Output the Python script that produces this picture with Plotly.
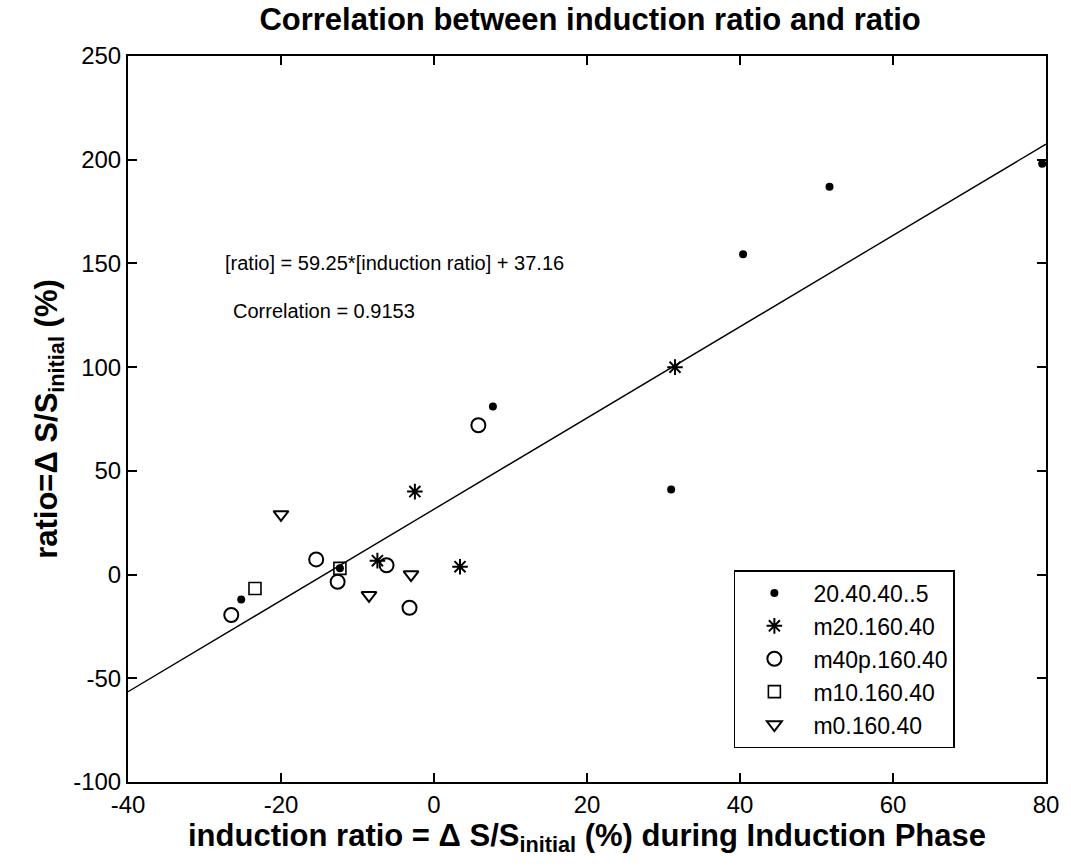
import plotly.graph_objects as go

# ---- data ----
s1_name = "20.40.40..5"
s1_x = [-25.2, -12.3, 7.7, 31.0, 40.4, 51.7, 79.5]
s1_y = [-12.0, 3.0, 81.0, 41.0, 154.4, 187.0, 198.0]

s2_name = "m20.160.40"
s2_x = [-7.4, -2.5, 3.4, 31.5]
s2_y = [6.7, 40.0, 3.8, 100.0]

s3_name = "m40p.160.40"
s3_x = [-26.5, -15.4, -12.6, -6.2, -3.2, 5.8]
s3_y = [-19.5, 7.3, -3.5, 4.5, -16.0, 72.0]

s4_name = "m10.160.40"
s4_x = [-23.4, -12.3]
s4_y = [-6.7, 3.0]

s5_name = "m0.160.40"
s5_x = [-20.0, -8.5, -3.0]
s5_y = [29.0, -10.0, 0.0]

fit_slope = 2.2
fit_intercept = 31.5
fit_x = [-40, 80]
fit_y = [fit_slope * v + fit_intercept for v in fit_x]

x_ticks = [-40, -20, 0, 20, 40, 60, 80]
y_ticks = [-100, -50, 0, 50, 100, 150, 200, 250]

eq_text = "[ratio] = 59.25*[induction ratio] + 37.16"
corr_text = "Correlation = 0.9153"

FONT = "Liberation Sans, Arial, sans-serif"

fig = go.Figure()

fig.add_trace(go.Scatter(x=fit_x, y=fit_y, mode="lines",
                         line=dict(color="black", width=1.4),
                         showlegend=False, hoverinfo="skip"))

def add_series(name, xs, ys, symbol, size, lw):
    fig.add_trace(go.Scatter(
        x=xs, y=ys, mode="markers", name=name,
        marker=dict(symbol=symbol, size=size, color="black",
                    line=dict(color="black", width=lw))))

add_series(s1_name, s1_x, s1_y, "circle", 8, 0)
add_series(s2_name, s2_x, s2_y, "asterisk-open", 13, 2)
add_series(s3_name, s3_x, s3_y, "circle-open", 14, 2)
add_series(s4_name, s4_x, s4_y, "square-open", 12, 1.6)
add_series(s5_name, s5_x, s5_y, "triangle-down-open", 13, 2)

fig.add_annotation(x=-27.6, y=150, xref="x", yref="y", text=eq_text,
                   showarrow=False, xanchor="left", yanchor="middle",
                   font=dict(family=FONT, size=20, color="black"))
fig.add_annotation(x=-26.6, y=127, xref="x", yref="y", text=corr_text,
                   showarrow=False, xanchor="left", yanchor="middle",
                   font=dict(family=FONT, size=20, color="black"))

fig.update_layout(
    width=1071, height=868,
    margin=dict(l=128, r=19, t=56, b=86),
    paper_bgcolor="white", plot_bgcolor="white",
    font=dict(family=FONT, color="black"),
    title=dict(text="<b>Correlation between induction ratio and ratio</b>",
               x=0.551, xanchor="center", y=0.978, yanchor="middle",
               font=dict(family=FONT, size=31, color="black")),
    legend=dict(x=0.66, y=0.292, xanchor="left", yanchor="top",
                bgcolor="white", bordercolor="black", borderwidth=1.5,
                font=dict(family=FONT, size=23, color="black"),
                itemwidth=68, itemsizing="trace", tracegroupgap=0),
    showlegend=True,
)

fig.update_xaxes(range=[-40, 80], tickvals=x_ticks, ticktext=[str(v) for v in x_ticks],
                 showgrid=False, zeroline=False, showline=True, linecolor="black",
                 linewidth=2, mirror="allticks", ticks="inside", ticklen=9,
                 tickwidth=1.5, tickcolor="black",
                 tickfont=dict(family=FONT, size=24, color="black"),
                 title=dict(text="<b>induction ratio = Δ S/S<sub>initial</sub> (%) during Induction Phase</b>",
                            font=dict(family=FONT, size=31, color="black"), standoff=2))
fig.update_yaxes(range=[-100, 250], tickvals=y_ticks, ticktext=[str(v) for v in y_ticks],
                 showgrid=False, zeroline=False, showline=True, linecolor="black",
                 linewidth=2, mirror="allticks", ticks="inside", ticklen=9,
                 tickwidth=1.5, tickcolor="black",
                 tickfont=dict(family=FONT, size=24, color="black"),
                 title=dict(text="<b>ratio=Δ S/S<sub>initial</sub> (%)</b>",
                            font=dict(family=FONT, size=31, color="black"), standoff=6))

fig.write_html("out.html")
